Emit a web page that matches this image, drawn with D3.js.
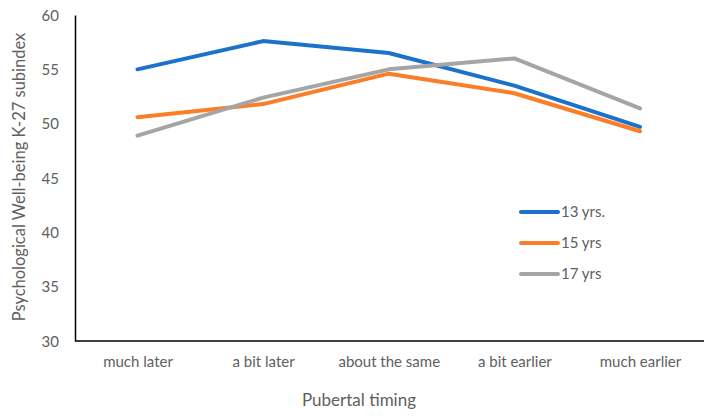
<!DOCTYPE html>
<html><head><meta charset="utf-8">
<script src="https://cdn.jsdelivr.net/npm/d3@7"></script>
<style>body{margin:0;background:#fff}svg{display:block}text{font-family:Lato,"Open Sans",sans-serif;fill:#606060}</style>
</head><body><svg id="c" width="717" height="418"></svg>
<script>
const categories = ["much later","a bit later","about the same","a bit earlier","much earlier"];
const seriesNames = ["13 yrs.","15 yrs","17 yrs"];
const s13 = [55.0, 57.6, 56.5, 53.5, 49.7];
const s15 = [50.6, 51.8, 54.6, 52.8, 49.3];
const s17 = [48.9, 52.4, 55.0, 56.0, 51.4];
const yTicks = [30,35,40,45,50,55,60];
const colors = ["#1B72CB","#FB7D26","#A5A5A5"];

const svg = d3.select("#c");
const x = d3.scalePoint().domain(categories).range([137.5, 640]);
const y = d3.scaleLinear().domain([30,60]).range([341,15]);
const data = [s13,s15,s17];

// axes
const yAx = svg.append("g").attr("transform","translate(75,0)")
  .call(d3.axisLeft(y).tickValues(yTicks).tickSize(0).tickPadding(16));
yAx.select(".domain").attr("stroke","#000").attr("stroke-width",1.5);
yAx.selectAll("text").style("font-size","15px").attr("fill","#606060").attr("dy","0.35em");

const xAx = svg.append("g").attr("transform","translate(0,341)")
  .call(d3.axisBottom(x).tickSize(0).tickPadding(15));
xAx.select(".domain").attr("d","M75,0H704").attr("stroke","#000").attr("stroke-width",1.5);
xAx.selectAll("text").style("font-size","15px").attr("fill","#606060");

// lines
const line = d3.line().x((d,i)=>x(categories[i])).y(d=>y(d));
data.forEach((s,k)=>{
  svg.append("path").datum(s).attr("d",line).attr("fill","none")
    .attr("stroke",colors[k]).attr("stroke-width",4).attr("stroke-linejoin","round").attr("stroke-linecap","round");
});

// legend
const lg = svg.append("g");
seriesNames.forEach((n,k)=>{
  const ly = 212 + k*31;
  lg.append("line").attr("x1",521).attr("x2",558).attr("y1",ly).attr("y2",ly)
    .attr("stroke",colors[k]).attr("stroke-width",4).attr("stroke-linecap","round");
  lg.append("text").attr("x",561).attr("y",ly).attr("dy","0.35em").style("font-size","15px").text(n);
});

// titles
svg.append("text").attr("x",359).attr("y",406).attr("text-anchor","middle").style("font-size","17px").text("Pubertal timing");
svg.append("text").attr("transform","translate(19,177) rotate(-90)").attr("text-anchor","middle").attr("dy","0.35em").style("font-size","16.5px").text("Psychological Well-being K-27 subindex");
</script></body></html>
